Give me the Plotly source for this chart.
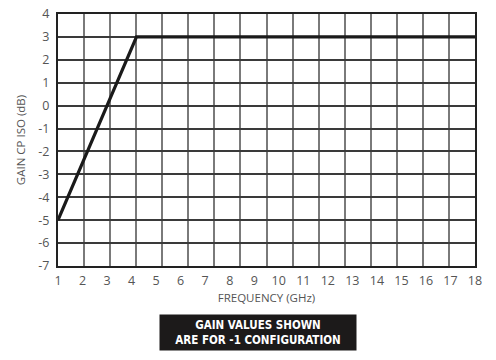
import plotly.graph_objects as go

freq_ghz = [1, 4.2, 18]
gain_db = [-5, 3, 3]
x_tick_labels = [str(v) for v in range(1, 19)]
y_tick_vals = list(range(-7, 5))
grid_divisions = 16

fig = go.Figure()

# invisible trace that anchors the grid axis
fig.add_trace(go.Scatter(x=[0, grid_divisions], y=[-7, 4], mode="markers",
                         marker=dict(opacity=0), hoverinfo="skip",
                         showlegend=False, xaxis="x", yaxis="y"))

fig.add_trace(go.Scatter(x=freq_ghz, y=gain_db, mode="lines",
                         line=dict(color="#1a1a1a", width=3.2),
                         showlegend=False, xaxis="x2", yaxis="y"))

font_ticks = dict(family="Open Sans, DejaVu Sans, sans-serif", size=12.5, color="#555555")

fig.update_layout(
    width=496, height=360,
    margin=dict(l=58, r=21, t=14, b=94),
    paper_bgcolor="white", plot_bgcolor="white",
    xaxis=dict(range=[0, grid_divisions], dtick=1, showticklabels=False,
               showgrid=True, gridcolor="#7a7a7a", gridwidth=2,
               zeroline=False, showline=True, linecolor="#222222",
               linewidth=2, mirror=True, ticks="", automargin=False),
    xaxis2=dict(range=[1, 18], overlaying="x", side="bottom",
                tickvals=list(range(1, 19)), ticktext=x_tick_labels,
                showgrid=False, zeroline=False, showline=False,
                ticks="outside", ticklen=3, tickcolor="rgba(0,0,0,0)",
                tickfont=font_ticks, automargin=False,
                title=dict(text="FREQUENCY (GHz)", standoff=5,
                           font=dict(family="Open Sans, DejaVu Sans, sans-serif",
                                     size=11.5, color="#555555"))),
    yaxis=dict(range=[-7, 4], tickvals=y_tick_vals,
               ticktext=[str(v) for v in y_tick_vals],
               showgrid=True, gridcolor="#3a3a3a", gridwidth=1.5,
               zeroline=False, showline=True, linecolor="#222222",
               linewidth=2, mirror=True, automargin=False,
               ticks="outside", ticklen=4, tickcolor="rgba(0,0,0,0)",
               tickfont=font_ticks,
               title=dict(text="GAIN CP ISO (dB)", standoff=10,
                          font=dict(family="Open Sans, DejaVu Sans, sans-serif",
                                    size=11.5, color="#555555"))),
    annotations=[dict(
        text="<b>GAIN VALUES SHOWN<br>ARE FOR -1 CONFIGURATION</b>",
        xref="paper", yref="paper", x=(258 - 58) / 417, y=-(332 - 266) / 252,
        xanchor="center", yanchor="middle", showarrow=False,
        bgcolor="#1c1a1a", width=194, height=33,
        font=dict(family="DejaVu Sans Condensed, Liberation Sans Narrow, sans-serif",
                  size=11.5, color="white"),
        align="center", borderpad=1)],
)

fig.write_html("out.html",
               config={"displayModeBar": False},
               post_script="document.body.style.margin='0';document.body.style.padding='0';")
